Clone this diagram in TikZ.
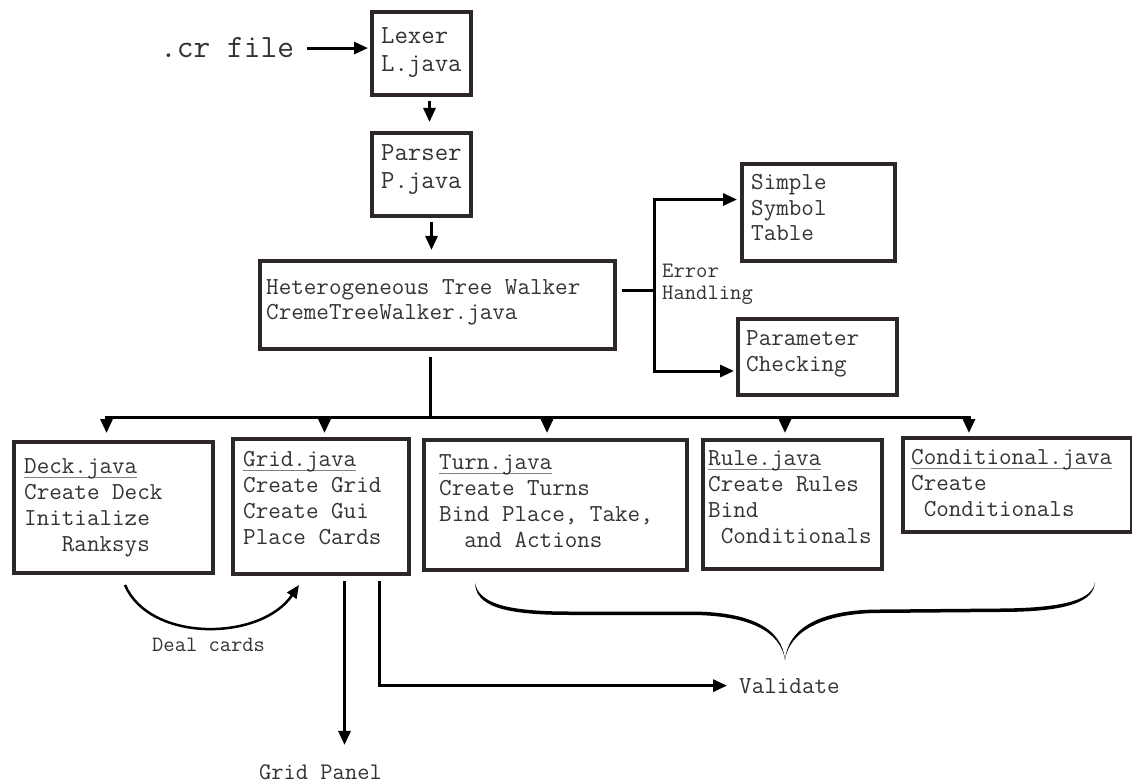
\documentclass[tikz,border=0pt]{standalone}
\usepackage{fontspec}
\usetikzlibrary{arrows.meta}
\definecolor{boxc}{HTML}{2E2727}
\definecolor{txtc}{HTML}{333333}
\newcommand\fmain{\ttfamily\fontsize{24.4}{25.7}\selectfont}
\newcommand\fbig{\ttfamily\fontsize{26}{28}\selectfont}
\newcommand\fcr{\ttfamily\fontsize{32.5}{34}\selectfont}
\newcommand\flab{\ttfamily\fontsize{22}{22}\selectfont}
\newcommand\ulname[1]{\setbox0\hbox{#1}\rlap{\color{gray}\rule[-4.5pt]{\wd0}{1.1pt}}\box0}
\begin{document}
\begin{tikzpicture}[x=1pt,y=-1pt,
  box/.style={draw=boxc, line width=4pt, rectangle, inner sep=0pt, anchor=north west},
  txt/.style={font=\fmain, text=txtc, align=left, anchor=base west, inner sep=0pt},
  line/.style={draw=black, line width=3pt},
  arr/.style={draw=black, line width=3pt, -{Triangle[length=14pt,width=12pt]}},
  brace/.style={fill=black, draw=none}
]
\useasboundingbox (0,0) rectangle (1132,783);
\fill[white] (0,0) rectangle (1132,783);

% boxes
\node[box, minimum width=99pt,  minimum height=83pt] (lexer)  at (370,10)  {};
\node[box, minimum width=99pt,  minimum height=83pt] (parser) at (370,131) {};
\node[box, minimum width=355pt, minimum height=88pt] (tw)     at (258,259) {};
\node[box, minimum width=153pt, minimum height=97pt] (simple) at (740,162) {};
\node[box, minimum width=159pt, minimum height=76pt] (param)  at (736,317) {};
\node[box, minimum width=199pt, minimum height=131pt] (deck)  at (12,440)  {};
\node[box, minimum width=176pt, minimum height=135pt] (grid)  at (231,437) {};
\node[box, minimum width=263pt, minimum height=130pt] (turn)  at (422,438) {};
\node[box, minimum width=179pt, minimum height=129pt] (rule)  at (701,438) {};
\node[box, minimum width=229pt, minimum height=94pt]  (cond)  at (901,436) {};

% texts (anchor = baseline of the last line)
\node[txt, font=\fcr] (crf) at (160,58) {.cr file};
\node[txt, font=\fbig] (lexert) at (381,72) {Lexer\\L.java};
\node[txt, font=\fbig] (parsert) at (381,189) {Parser\\P.java};
\node[txt] (twt) at (266,320) {Heterogeneous Tree Walker\\CremeTreeWalker.java};
\node[txt] (simplet) at (751,241) {Simple\\Symbol\\Table};
\node[txt] (paramt) at (746,371) {Parameter\\Checking};
\node[txt, font=\flab] (errt) at (662,300) {Error\\Handling};
\node[txt] (deckt) at (24,551) {\ulname{Deck.java}\\Create Deck\\Initialize\\\ \ \ Ranksys};
\node[txt] (gridt) at (243,544) {\ulname{Grid.java}\\Create Grid\\Create Gui\\Place Cards};
\node[txt] (turnt) at (439,547) {\ulname{Turn.java}\\Create Turns\\Bind Place, Take,\\\ \ and Actions};
\node[txt] (rulet) at (708,543) {\ulname{Rule.java}\\Create Rules\\Bind\\\ Conditionals};
\node[txt] (condt) at (911,516) {\ulname{Conditional.java}\\Create\\\ Conditionals};
\node[txt, font=\ttfamily\fontsize{21.9}{22}\selectfont] (deal) at (152,651) {Deal cards};
\node[txt, font=\ttfamily\fontsize{23.8}{24}\selectfont] (gp) at (259,779) {Grid Panel};
\node[txt] (val) at (739,693) {Validate};

% top chain
\draw[arr, shorten >=2pt] ([xshift=13pt]crf.east) -- (crf.east -| lexer.west);
\draw[arr] ([xshift=8pt,yshift=-4pt]lexer.south) coordinate (lp) -- ([yshift=9pt]lp |- parser.north);
\draw[arr] ([xshift=10pt,yshift=-4pt]parser.south) coordinate (pt) -- ([yshift=9pt]pt |- tw.north);

% error handling branches
\draw[line] ([xshift=5pt,yshift=14pt]tw.east) -- ++(32,0) coordinate (ehj);
\draw[arr, shorten >=3pt] (ehj) |- ([yshift=13pt]simple.west);
\draw[arr, shorten >=2pt] (ehj) |- ([yshift=-14pt]param.west);

% bus
\draw[line] ([xshift=-7.5pt,yshift=-6pt]tw.south) -- ++(0,60) coordinate (bus);
\draw[arr] (bus) -| ([xshift=-7pt,yshift=7pt]deck.north);
\draw[arr] (bus) -| ([xshift=3.5pt,yshift=4pt]grid.north);
\draw[arr] (bus) -| ([xshift=-8.5pt,yshift=5pt]turn.north);
\draw[arr] (bus) -| ([xshift=-7.5pt,yshift=5pt]rule.north);
\draw[arr] (bus) -| ([xshift=-48.5pt,yshift=3pt]cond.north);

% deal cards
\draw[draw=black, line width=2.5pt, -{Triangle[length=13pt,width=11pt]}]
  ([xshift=11.5pt,yshift=-10pt]deck.south) .. controls +(25,58) and +(-38,56) .. ([xshift=68pt,yshift=-9pt]grid.south west);

% grid outputs
\draw[arr] ([xshift=23.5pt,yshift=-5pt]grid.south) coordinate (ga) -- ([yshift=19pt]ga |- gp.north);
\draw[arr] ([xshift=58.5pt,yshift=-5pt]grid.south) |- ([xshift=-12pt]val.west);

% brace
\fill[brace] (475,583) .. controls (479,603) and (505,611.5) .. (570,611.5) -- (690,611.5)
  .. controls (750,611.5) and (782,628) .. (785,660)
  .. controls (788,628) and (820,609.5) .. (880,609.5) -- (1000,608.5)
  .. controls (1070,608) and (1093,598) .. (1095,582)
  .. controls (1094,601) and (1070,612) .. (1000,612) -- (880,613)
  .. controls (822,613) and (789,632) .. (785,660)
  .. controls (781,632) and (750,615) .. (690,615) -- (570,615)
  .. controls (500,615) and (476,605) .. (475,583) -- cycle;
\end{tikzpicture}
\end{document}
